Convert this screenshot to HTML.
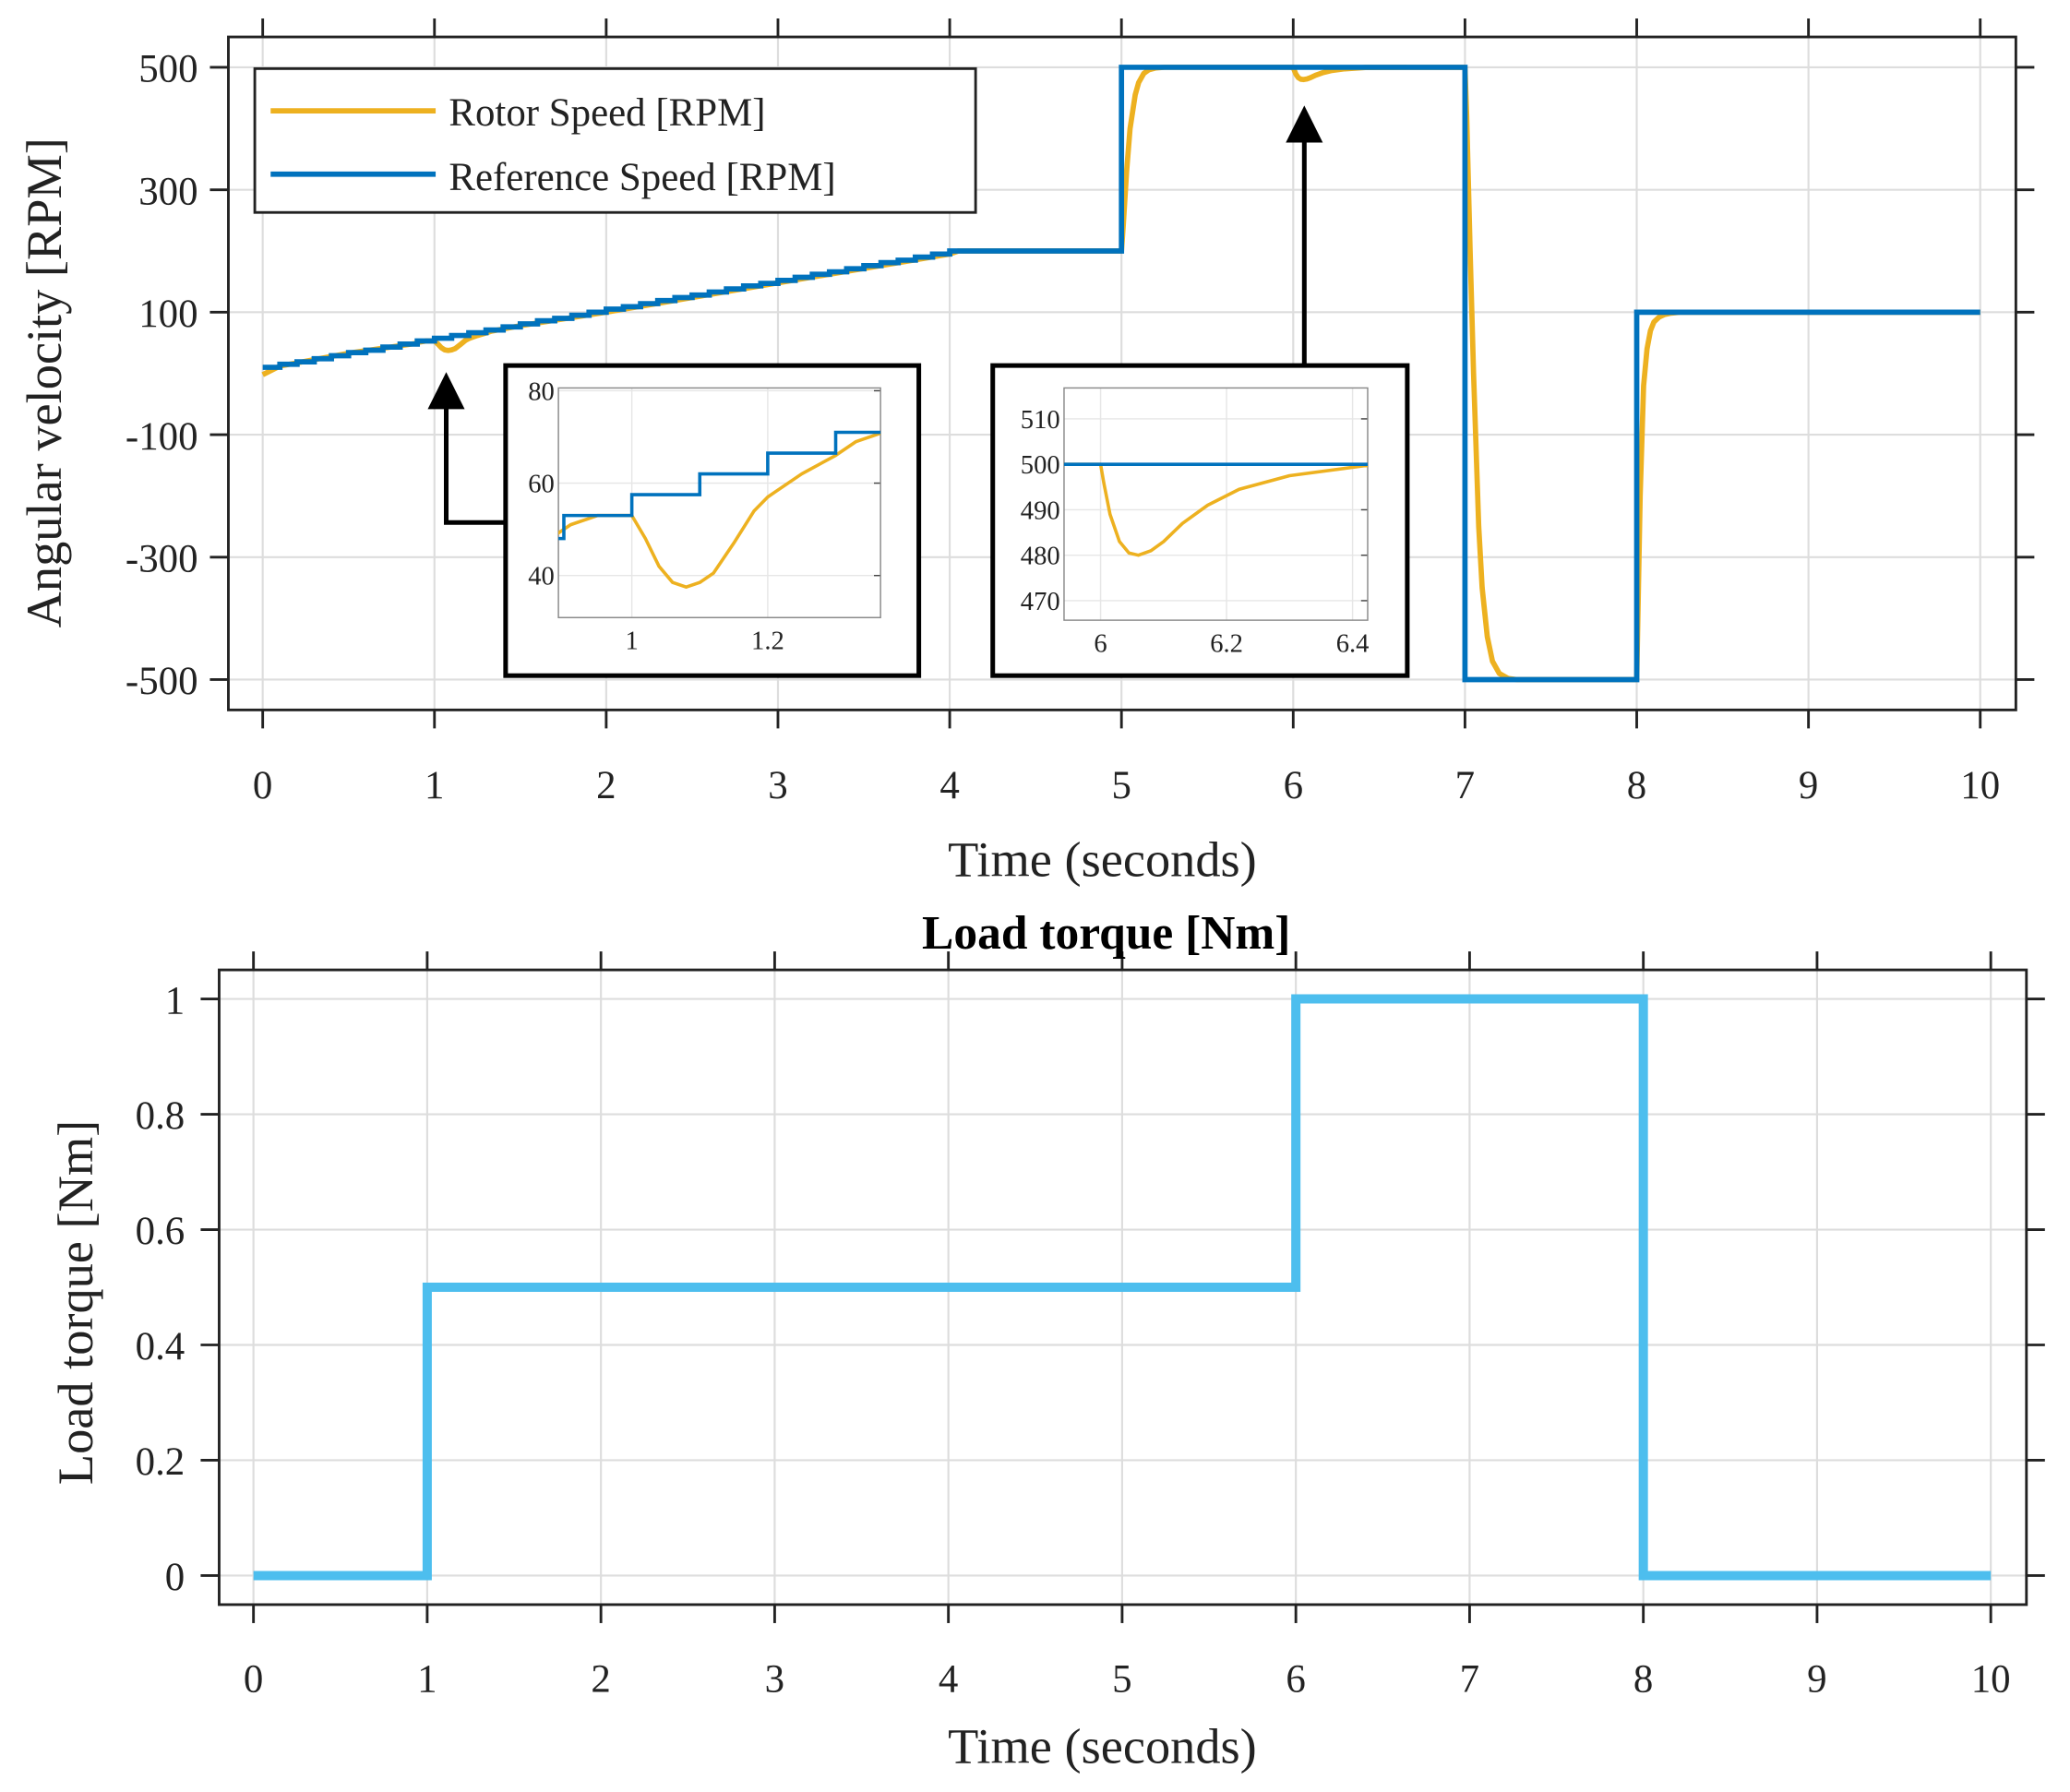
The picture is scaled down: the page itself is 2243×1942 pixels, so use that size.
<!DOCTYPE html>
<html><head><meta charset="utf-8"><style>
html,body{margin:0;padding:0;background:#fff;overflow:hidden;width:2243px;height:1942px}
svg{display:block;font-family:"Liberation Serif",serif}
</style></head><body>
<svg id="s" width="2243" height="1942" viewBox="0 0 1568 1358" preserveAspectRatio="none" xmlns="http://www.w3.org/2000/svg"></svg>
<script>
// ---- data ----
const refT=[0,0.1,0.2,0.3,0.4,0.5,0.6,0.7,0.8,0.9,1.0,1.1,1.2,1.3,1.4,1.5,1.6,1.7,1.8,1.9,2.0,2.1,2.2,2.3,2.4,2.5,2.6,2.7,2.8,2.9,3.0,3.1,3.2,3.3,3.4,3.5,3.6,3.7,3.8,3.9,4.0,5.0,7.0,8.0];
const refV=[10,15,19,24,29,34,38,43,48,53,57.5,62,66.5,71,76,81,86,90,95,100,105,109,114,119,124,128,133,138,143,147,152,157,162,166,171,176,181,185,190,195,200,500,-500,100];
const refEnd=10;
const rotorT=[0,0.1,0.5,0.89,0.91,0.95,1.0,1.02,1.04,1.06,1.08,1.1,1.12,1.15,1.18,1.2,1.21,1.25,1.3,1.33,1.37,1.5,2,3,4,4.05,5,5.01,5.03,5.05,5.08,5.1,5.13,5.16,5.2,5.25,6,6.005,6.015,6.03,6.045,6.06,6.08,6.1,6.13,6.17,6.22,6.3,6.42,7,7.01,7.03,7.05,7.08,7.1,7.13,7.16,7.2,7.25,7.3,7.4,8,8.01,8.02,8.04,8.06,8.08,8.1,8.13,8.16,8.2,8.25,10];
const rotorV=[-2,12,33,49,51,53,53,48,42,38.5,37.5,38.5,40.5,47,54,57,58,62,66,69,71,78,100,148,195,200,200,240,330,400,455,475,490,496,499,500,500,496,489,483,480.5,480,481,483,487,491,494.5,497.5,499.7,500,420,200,0,-250,-350,-430,-470,-490,-498,-500,-500,-500,-350,-200,-20,40,70,84,92,96,98.5,100,100];
const torqueT=[0,1,6,8,10];
const torqueV=[0,0.5,1,0,0];
const topXTicks=[0,1,2,3,4,5,6,7,8,9,10];
const topYTicks=[500,300,100,-100,-300,-500];
const botYTicks=[0,0.2,0.4,0.6,0.8,1];
const botYLabels=["0","0.2","0.4","0.6","0.8","1"];
const in1XTicks=[1,1.2], in1YTicks=[40,60,80];
const in2XTicks=[6,6.2,6.4], in2YTicks=[470,480,490,500,510];

const NS="http://www.w3.org/2000/svg", S=document.getElementById('s');
function mk(tag,at,par){const e=document.createElementNS(NS,tag);for(const k in at)e.setAttribute(k,at[k]);(par||S).appendChild(e);return e;}
function txt(s,x,y,size,anchor,par,extra){const e=mk('text',Object.assign({x:x,y:y,'font-size':size,'text-anchor':anchor||'middle',fill:'#222'},extra||{}),par);e.textContent=s;return e;}
function lin(a,b,c,d){return v=>c+(v-a)*(d-c)/(b-a);}
function stepPath(T,V,end,sx,sy){let d='M'+sx(T[0])+','+sy(V[0]);for(let i=1;i<T.length;i++){d+='L'+sx(T[i])+','+sy(V[i-1])+'L'+sx(T[i])+','+sy(V[i]);}d+='L'+sx(end)+','+sy(V[V.length-1]);return d;}
function linePath(T,V,sx,sy){return T.map((t,i)=>(i?'L':'M')+sx(t)+','+sy(V[i])).join('');}

// ---- top plot ----
const tx=lin(0,10,199,1500), ty=lin(-500,500,515,51);
const topG=mk('g',{});


topXTicks.forEach(v=>{mk('line',{x1:tx(v),x2:tx(v),y1:28,y2:538,stroke:'#ddd','stroke-width':1.5},topG);mk('line',{x1:tx(v),x2:tx(v),y1:14,y2:28,stroke:'#222','stroke-width':2},topG);mk('line',{x1:tx(v),x2:tx(v),y1:538,y2:552,stroke:'#222','stroke-width':2},topG);const t=txt(String(v),tx(v),605,30,'middle',topG);});
topYTicks.forEach(v=>{mk('line',{x1:173,x2:1527,y1:ty(v),y2:ty(v),stroke:'#ddd','stroke-width':1.5},topG);mk('line',{x1:159,x2:173,y1:ty(v),y2:ty(v),stroke:'#222','stroke-width':2},topG);mk('line',{x1:1527,x2:1541,y1:ty(v),y2:ty(v),stroke:'#222','stroke-width':2},topG);const t=txt(String(v),150,ty(v)+11,30,'end',topG);});
mk('rect',{x:173,y:28,width:1354,height:510,fill:'none',stroke:'#222','stroke-width':2},topG);
const rp=mk('path',{d:linePath(rotorT,rotorV,tx,ty),fill:'none',stroke:'#EDB120','stroke-width':4,'stroke-linejoin':'round'},topG);

const fp=mk('path',{d:stepPath(refT,refV,refEnd,tx,ty),fill:'none',stroke:'#0072BD','stroke-width':4},topG);

let t1=txt('Time (seconds)',835,664,38,'middle',topG);
let t2=txt('Angular velocity [RPM]',0,0,38,'middle',topG,{transform:'translate(46,290) rotate(-90)'});
// legend
const lg=mk('g',{});
mk('rect',{x:193,y:52,width:546,height:109,fill:'#fff',stroke:'#222','stroke-width':2},lg);
mk('line',{x1:205,x2:330,y1:84,y2:84,stroke:'#EDB120','stroke-width':4},lg);
mk('line',{x1:205,x2:330,y1:132,y2:132,stroke:'#0072BD','stroke-width':4},lg);
let l1=txt('Rotor Speed [RPM]',340,95,30,'start',lg);
let l2=txt('Reference Speed [RPM]',340,144,30,'start',lg);
// arrows
mk('path',{d:'M383,396 L338,396 L338,300',fill:'none',stroke:'#000','stroke-width':3.5});
mk('path',{d:'M324,310 L338,282 L352,310 Z',fill:'#000'});
mk('path',{d:'M988,277 L988,98',fill:'none',stroke:'#000','stroke-width':3.5});
mk('path',{d:'M974,108 L988,80 L1002,108 Z',fill:'#000'});

// insets
function inset(name,bx,by,bw,bh,ax,ay,aw,ah,xmin,xmax,ymin,ymax,xt,yt,xl){
  const g=mk('g',{});
  mk('rect',{x:bx,y:by,width:bw,height:bh,fill:'#fff',stroke:'#000','stroke-width':3.5},g);
  const sx=lin(xmin,xmax,ax,ax+aw), sy=lin(ymin,ymax,ay+ah,ay);
  const cid=name+'-clip';const cp=mk('clipPath',{id:cid},g);mk('rect',{x:ax,y:ay,width:aw,height:ah},cp);
  xt.forEach(v=>{mk('line',{x1:sx(v),x2:sx(v),y1:ay,y2:ay+ah,stroke:'#e6e6e6','stroke-width':1},g);txt(xl(v),sx(v),ay+ah+24,20,'middle',g);});
  yt.forEach(v=>{mk('line',{x1:ax,x2:ax+aw,y1:sy(v),y2:sy(v),stroke:'#e6e6e6','stroke-width':1},g);mk('line',{x1:ax+aw-5,x2:ax+aw,y1:sy(v),y2:sy(v),stroke:'#444'},g);txt(String(v),ax-3,sy(v)+7,20,'end',g);});
  mk('rect',{x:ax,y:ay,width:aw,height:ah,fill:'none',stroke:'#888','stroke-width':1},g);
  const cg=mk('g',{'clip-path':'url(#'+cid+')'},g);
  mk('path',{d:linePath(rotorT,rotorV,sx,sy),fill:'none',stroke:'#EDB120','stroke-width':2.5,'stroke-linejoin':'round'},cg);
  mk('path',{d:stepPath(refT,refV,refEnd,sx,sy),fill:'none',stroke:'#0072BD','stroke-width':2.5},cg);
}
inset('inset-zoom-1',383,277,313,235,423,294,244,174,0.892,1.366,30.9,80.6,in1XTicks,in1YTicks,v=>String(v));
inset('inset-zoom-2',752,277,314,235,806,294,230,176,5.942,6.424,465.7,516.8,in2XTicks,in2YTicks,v=>String(v));

// ---- bottom plot ----
const bx=lin(0,10,192,1508), by=lin(0,1,1194,757);
const botG=mk('g',{});
topXTicks.forEach(v=>{mk('line',{x1:bx(v),x2:bx(v),y1:735,y2:1216,stroke:'#ddd','stroke-width':1.5},botG);mk('line',{x1:bx(v),x2:bx(v),y1:721,y2:735,stroke:'#222','stroke-width':2},botG);mk('line',{x1:bx(v),x2:bx(v),y1:1216,y2:1230,stroke:'#222','stroke-width':2},botG);const t=txt(String(v),bx(v),1282,30,'middle',botG);});
botYTicks.forEach((v,i)=>{mk('line',{x1:166,x2:1535,y1:by(v),y2:by(v),stroke:'#ddd','stroke-width':1.5},botG);mk('line',{x1:152,x2:166,y1:by(v),y2:by(v),stroke:'#222','stroke-width':2},botG);mk('line',{x1:1535,x2:1549,y1:by(v),y2:by(v),stroke:'#222','stroke-width':2},botG);const t=txt(botYLabels[i],140,by(v)+11,30,'end',botG);});
mk('rect',{x:166,y:735,width:1369,height:481,fill:'none',stroke:'#222','stroke-width':2},botG);
const tp=mk('path',{d:stepPath(torqueT,torqueV,10,bx,by),fill:'none',stroke:'#4DBEEE','stroke-width':7},botG);

let t3=txt('Load torque [Nm]',838,719,36,'middle',botG,{'font-weight':'bold',fill:'#000'});
let t4=txt('Time (seconds)',835,1336,38,'middle',botG);
let t5=txt('Load torque [Nm]',0,0,38,'middle',botG,{transform:'translate(70,987) rotate(-90)'});
</script>
</body></html>
